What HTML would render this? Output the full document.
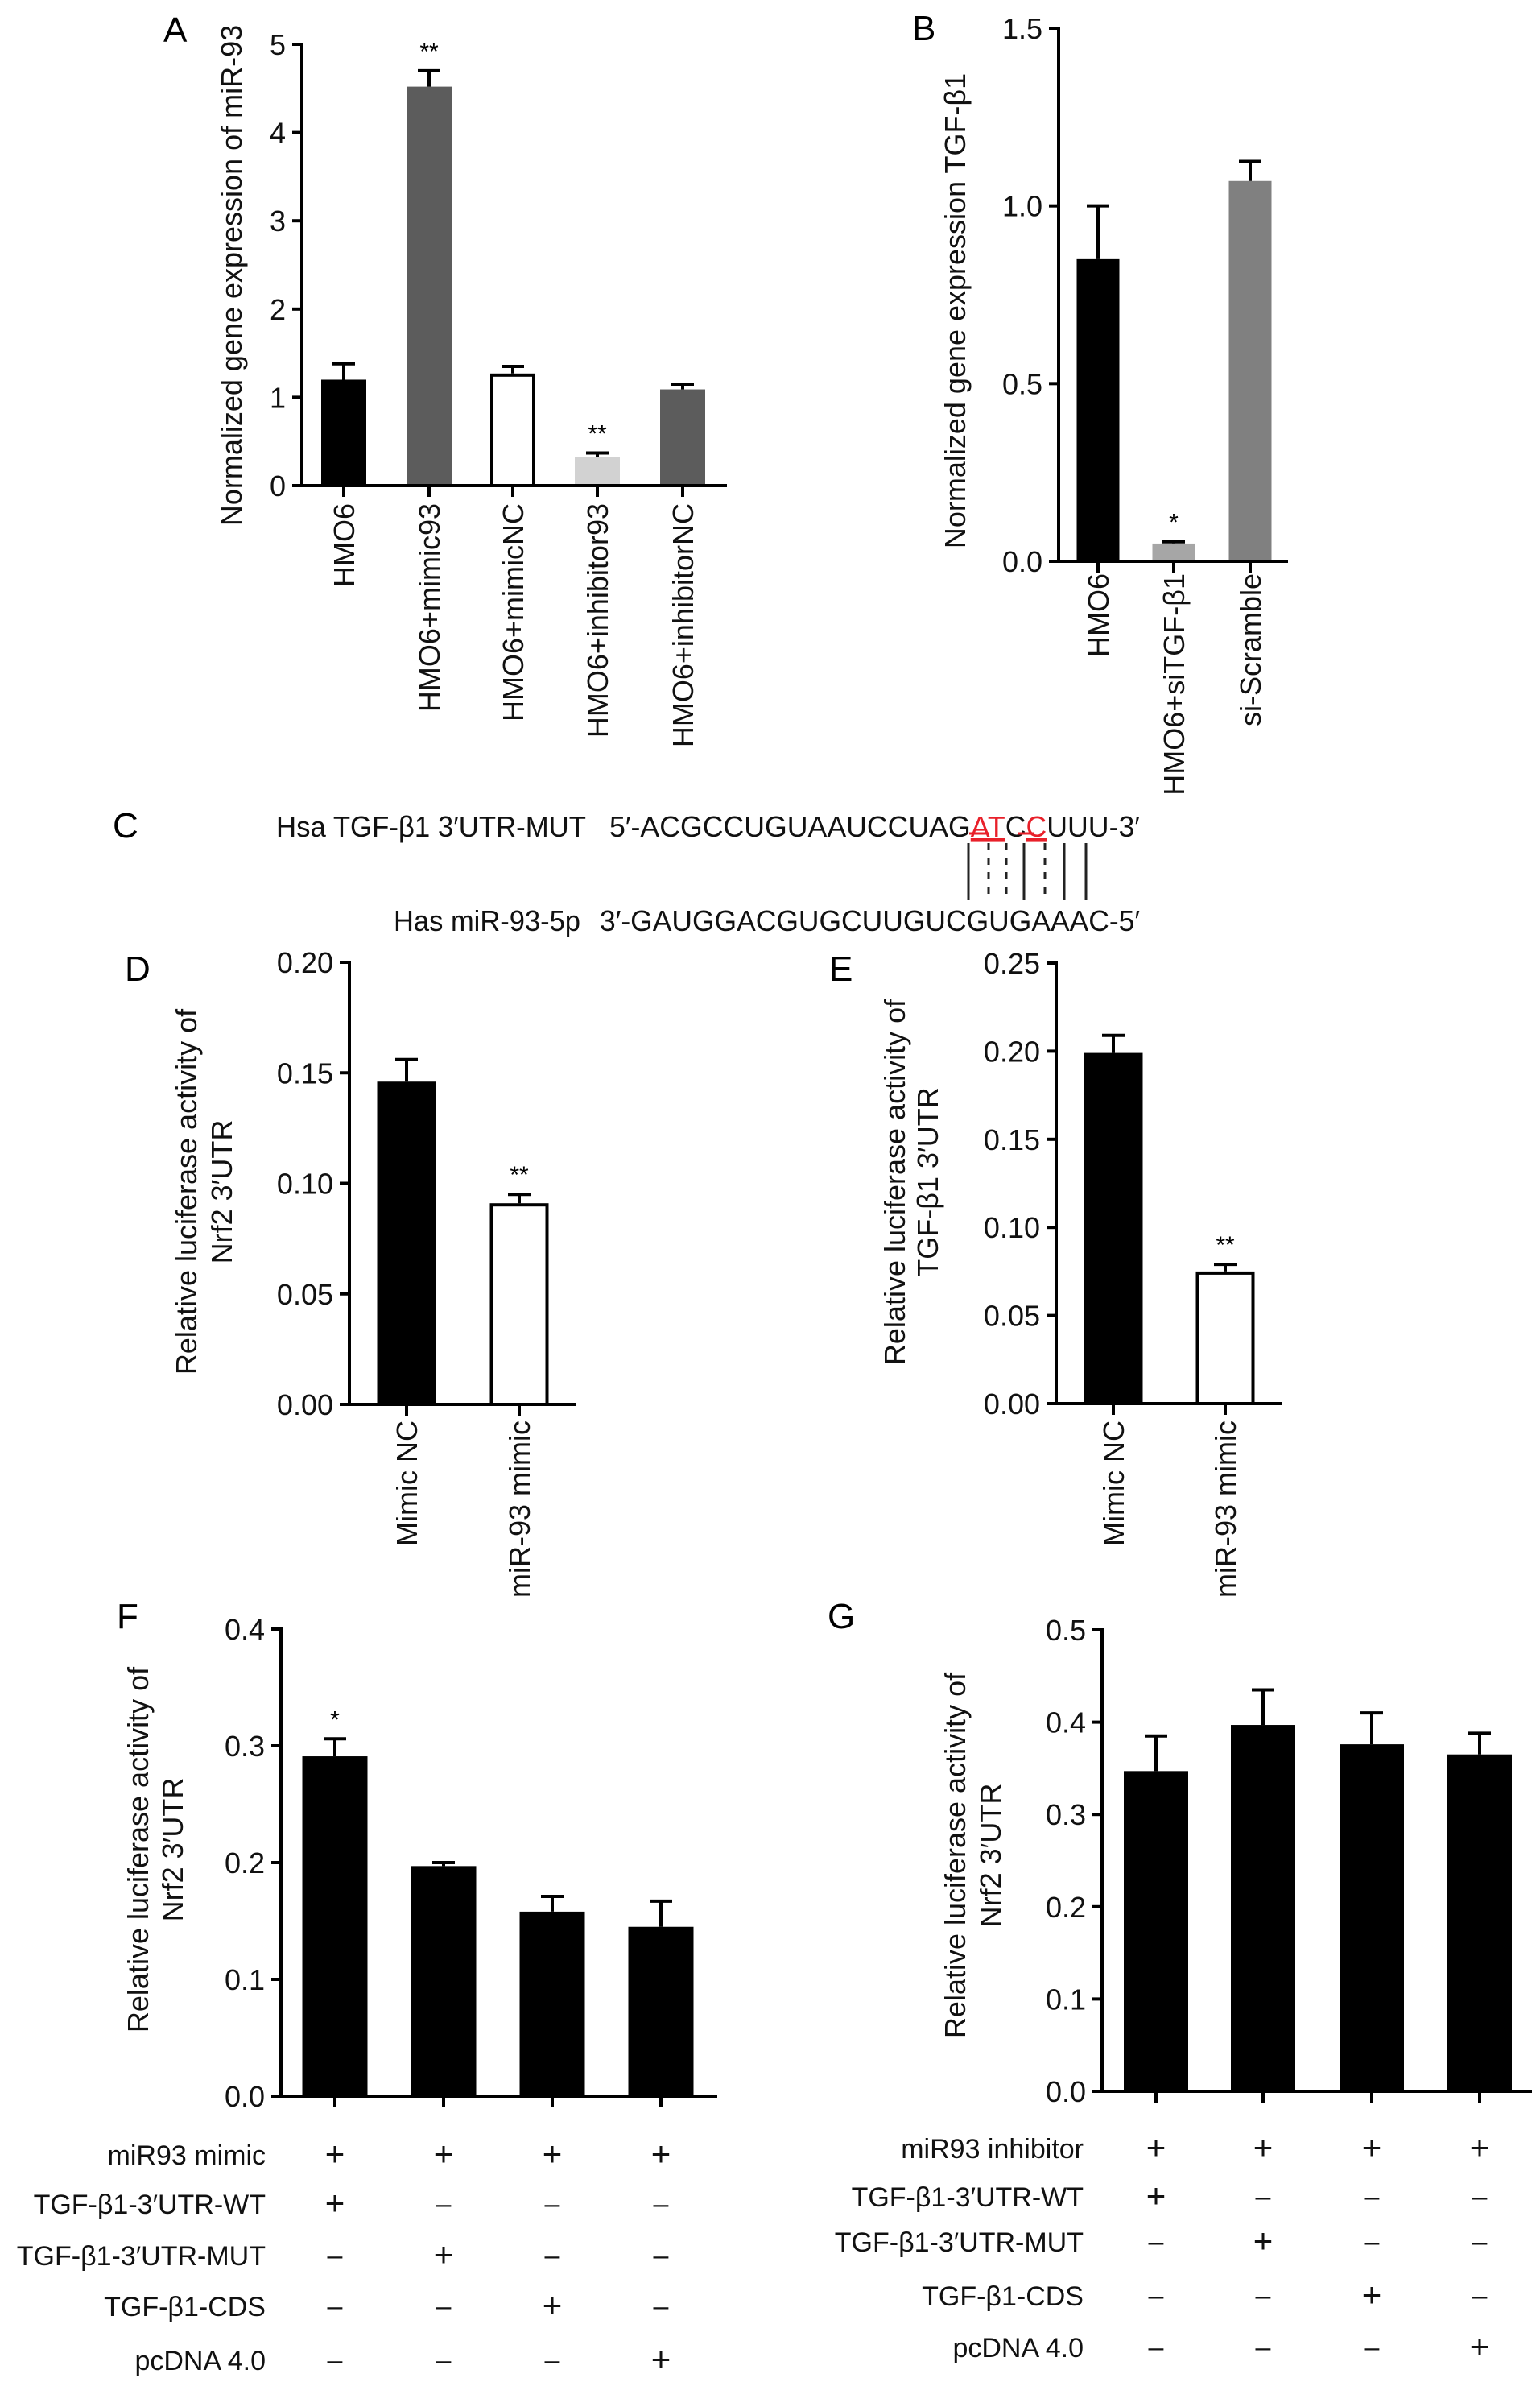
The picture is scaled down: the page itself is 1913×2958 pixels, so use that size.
<!DOCTYPE html>
<html><head><meta charset="utf-8"><style>
html,body{margin:0;padding:0;background:#fff;}
svg{display:block;font-family:"Liberation Sans",Arial,sans-serif;}
</style></head><body>
<svg id="fig" width="1913" height="2958" viewBox="0 0 1913 2958" xmlns="http://www.w3.org/2000/svg">
<g font-size="44" fill="#000">
<text x="203" y="52">A</text>
<text x="1133" y="50">B</text>
<text x="140" y="1040">C</text>
<text x="155" y="1218">D</text>
<text x="1030" y="1218">E</text>
<text x="145" y="2022">F</text>
<text x="1028" y="2022">G</text>
</g>
<g font-size="36" fill="#111">
<text x="343" y="1039" textLength="385" lengthAdjust="spacingAndGlyphs">Hsa TGF-β1 3′UTR-MUT</text>
<text x="757" y="1039" textLength="659" lengthAdjust="spacingAndGlyphs">5′-ACGCCUGUAAUCCUAG<tspan fill="#e8202a" text-decoration="underline">AT</tspan>C<tspan fill="#e8202a" text-decoration="underline">C</tspan>UUU-3′</text>
<line x1="1204" y1="1035" x2="1229" y2="1035" stroke="#e8202a" stroke-width="3"/>
<line x1="1264" y1="1035" x2="1284" y2="1035" stroke="#e8202a" stroke-width="3"/>
<text x="489" y="1156" textLength="232" lengthAdjust="spacingAndGlyphs">Has miR-93-5p</text>
<text x="745" y="1156" textLength="671" lengthAdjust="spacingAndGlyphs">3′-GAUGGACGUGCUUGUCGUGAAAC-5′</text>
<g stroke="#222" stroke-width="3">
<line x1="1203" y1="1047" x2="1203" y2="1118"/>
<line x1="1228" y1="1047" x2="1228" y2="1118" stroke-dasharray="9,9"/>
<line x1="1250" y1="1047" x2="1250" y2="1118" stroke-dasharray="9,9"/>
<line x1="1272" y1="1047" x2="1272" y2="1118"/>
<line x1="1298" y1="1047" x2="1298" y2="1118" stroke-dasharray="9,9"/>
<line x1="1322" y1="1047" x2="1322" y2="1118"/>
<line x1="1349" y1="1047" x2="1349" y2="1118"/>
</g>
</g>
</svg>
<script>
// ---- data ----
const aCategories = ["HMO6","HMO6+mimic93","HMO6+mimicNC","HMO6+inhibitor93","HMO6+inhibitorNC"];
const aValues = [1.2, 4.52, 1.27, 0.32, 1.09];
const aErrors = [0.18, 0.18, 0.08, 0.05, 0.06];
const aSig = ["", "**", "", "**", ""];
const aTicks = ["0","1","2","3","4","5"];

const bCategories = ["HMO6","HMO6+siTGF-β1","si-Scramble"];
const bValues = [0.85, 0.05, 1.07];
const bErrors = [0.15, 0.005, 0.055];
const bSig = ["", "*", ""];
const bTicks = ["0.0","0.5","1.0","1.5"];

const dCategories = ["Mimic NC","miR-93 mimic"];
const dValues = [0.146, 0.091];
const dErrors = [0.01, 0.004];
const dSig = ["", "**"];
const dTicks = ["0.00","0.05","0.10","0.15","0.20"];

const eCategories = ["Mimic NC","miR-93 mimic"];
const eValues = [0.199, 0.075];
const eErrors = [0.01, 0.004];
const eSig = ["", "**"];
const eTicks = ["0.00","0.05","0.10","0.15","0.20","0.25"];

const fValues = [0.291, 0.197, 0.158, 0.145];
const fErrors = [0.015, 0.003, 0.013, 0.022];
const fSig = ["*", "", "", ""];
const fTicks = ["0.0","0.1","0.2","0.3","0.4"];
const fRowLabels = ["miR93 mimic","TGF-β1-3′UTR-WT","TGF-β1-3′UTR-MUT","TGF-β1-CDS","pcDNA 4.0"];
const fSigns = [["+","+","+","+"],["+","–","–","–"],["–","+","–","–"],["–","–","+","–"],["–","–","–","+"]];

const gValues = [0.347, 0.397, 0.376, 0.365];
const gErrors = [0.038, 0.038, 0.034, 0.023];
const gSig = ["", "", "", ""];
const gTicks = ["0.0","0.1","0.2","0.3","0.4","0.5"];
const gRowLabels = ["miR93 inhibitor","TGF-β1-3′UTR-WT","TGF-β1-3′UTR-MUT","TGF-β1-CDS","pcDNA 4.0"];
const gSigns = [["+","+","+","+"],["+","–","–","–"],["–","+","–","–"],["–","–","+","–"],["–","–","–","+"]];

const NS = "http://www.w3.org/2000/svg";
const svg = document.getElementById("fig");
function mk(tag, attrs, parent){ const e=document.createElementNS(NS,tag); for(const k in attrs) e.setAttribute(k,attrs[k]); (parent||svg).appendChild(e); return e; }

function chart(c){
  const g = mk("g",{});
  
  
  const yScale = v => c.y0 - (v - c.vmin)/(c.vmax - c.vmin)*(c.y0 - c.y1);
  c.values.forEach((v,i)=>{
    const cx = c.xs[i];
    const top = yScale(v);
    const fill = c.colors[i];
    const r = mk("rect",{x:cx-c.bw/2+(fill==="#fff"?2:0), y:top+(fill==="#fff"?2:0), width:c.bw-(fill==="#fff"?4:0), height:c.y0-top-(fill==="#fff"?2:0), fill:fill, stroke:fill==="#fff"?"#000":"none", "stroke-width":4},g);
    
    
    const et = yScale(v + c.errors[i]);
    const eb = mk("path",{d:`M${cx},${top} V${et} M${cx-14},${et} H${cx+14}`, stroke:"#000", "stroke-width":4, fill:"none"},g);
    
    
    if(c.sig[i]){
      const s = mk("text",{x:cx, y:et-14, "text-anchor":"middle", "font-size":30},g);
      s.textContent = c.sig[i];
      
      
    }
  });
  const ya = mk("line",{x1:c.ax, y1:c.y1-2, x2:c.ax, y2:c.y0+2, stroke:"#000","stroke-width":4},g);
  
  
  const xa = mk("line",{x1:c.ax-12, y1:c.y0, x2:c.xend, y2:c.y0, stroke:"#000","stroke-width":4},g);
  
  
  c.ticks.forEach(t=>{
    const y = yScale(parseFloat(t));
    mk("line",{x1:c.ax-12,y1:y,x2:c.ax,y2:y,stroke:"#000","stroke-width":4},g);
    const tl = mk("text",{x:c.ax-20, y:y+13, "text-anchor":"end", "font-size":36, fill:"#111"},g);
    tl.textContent = t;
    
    
  });
  c.xs.forEach(cx=>{ mk("line",{x1:cx,y1:c.y0,x2:cx,y2:c.y0+14,stroke:"#000","stroke-width":4},g); });
  if(c.cats){
    c.cats.forEach((t,i)=>{
      const cx=c.xs[i];
      const tl = mk("text",{x:0,y:0,"text-anchor":"end","font-size":36,fill:"#111",transform:`translate(${cx+13},${c.labTop}) rotate(-90)`},g);
      tl.textContent = t;
      
      
    });
  }
  c.title.forEach((line,k)=>{
    const tt = mk("text",{x:0,y:0,"text-anchor":"middle","font-size":36,fill:"#111",transform:`translate(${c.tx[k]},${c.ty}) rotate(-90)`},g);
    tt.textContent = line;
    
    
  });
  if(c.rows){
    c.rows.forEach((lab,r)=>{
      const tl = mk("text",{x:c.rowRight, y:c.rowYs[r]+13, "text-anchor":"end","font-size":34,fill:"#111"},g);
      tl.textContent = lab;
      
      
      c.signs[r].forEach((s,i)=>{
        const st = mk("text",{x:c.xs[i], y:c.rowYs[r]+(s==="+"?14:12), "text-anchor":"middle","font-size":s==="+"?42:34,fill:"#111"},g);
        st.textContent = s;
        
        
      });
    });
  }
}

chart({name:"chart-a", cats:aCategories, values:aValues, errors:aErrors, sig:aSig, ticks:aTicks,
  vmin:0, vmax:5, y0:603, y1:55, ax:375, xend:903, xs:[427,533,637,742,848], bw:56,
  colors:["#000","#5c5c5c","#fff","#d2d2d2","#5c5c5c"], labTop:625,
  title:["Normalized gene expression of miR-93"], tx:[300], ty:342});
chart({name:"chart-b", cats:bCategories, values:bValues, errors:bErrors, sig:bSig, ticks:bTicks,
  vmin:0, vmax:1.5, y0:697, y1:35, ax:1315, xend:1600, xs:[1364,1458,1553], bw:53,
  colors:["#000","#a6a6a6","#808080"], labTop:712,
  title:["Normalized gene expression TGF-β1"], tx:[1199], ty:386});
chart({name:"chart-d", cats:dCategories, values:dValues, errors:dErrors, sig:dSig, ticks:dTicks,
  vmin:0, vmax:0.20, y0:1744, y1:1195, ax:434, xend:716, xs:[505,645], bw:73,
  colors:["#000","#fff"], labTop:1764,
  title:["Relative luciferase activity of","Nrf2 3′UTR"], tx:[244,288], ty:1480});
chart({name:"chart-e", cats:eCategories, values:eValues, errors:eErrors, sig:eSig, ticks:eTicks,
  vmin:0, vmax:0.25, y0:1743, y1:1196, ax:1312, xend:1592, xs:[1383,1522], bw:73,
  colors:["#000","#fff"], labTop:1764,
  title:["Relative luciferase activity of","TGF-β1 3′UTR"], tx:[1124,1165], ty:1468});
chart({name:"chart-f", cats:null, values:fValues, errors:fErrors, sig:fSig, ticks:fTicks,
  vmin:0, vmax:0.4, y0:2603, y1:2023, ax:349, xend:891, xs:[416,551,686,821], bw:81,
  colors:["#000","#000","#000","#000"],
  title:["Relative luciferase activity of","Nrf2 3′UTR"], tx:[184,227], ty:2297,
  rows:fRowLabels, signs:fSigns, rowRight:330, rowYs:[2675,2736,2800,2863,2930]});
chart({name:"chart-g", cats:null, values:gValues, errors:gErrors, sig:gSig, ticks:gTicks,
  vmin:0, vmax:0.5, y0:2597, y1:2024, ax:1369, xend:1903, xs:[1436,1569,1704,1838], bw:80,
  colors:["#000","#000","#000","#000"],
  title:["Relative luciferase activity of","Nrf2 3′UTR"], tx:[1199,1243], ty:2304,
  rows:gRowLabels, signs:gSigns, rowRight:1346, rowYs:[2667,2727,2783,2850,2914]});
</script>
</body></html>
